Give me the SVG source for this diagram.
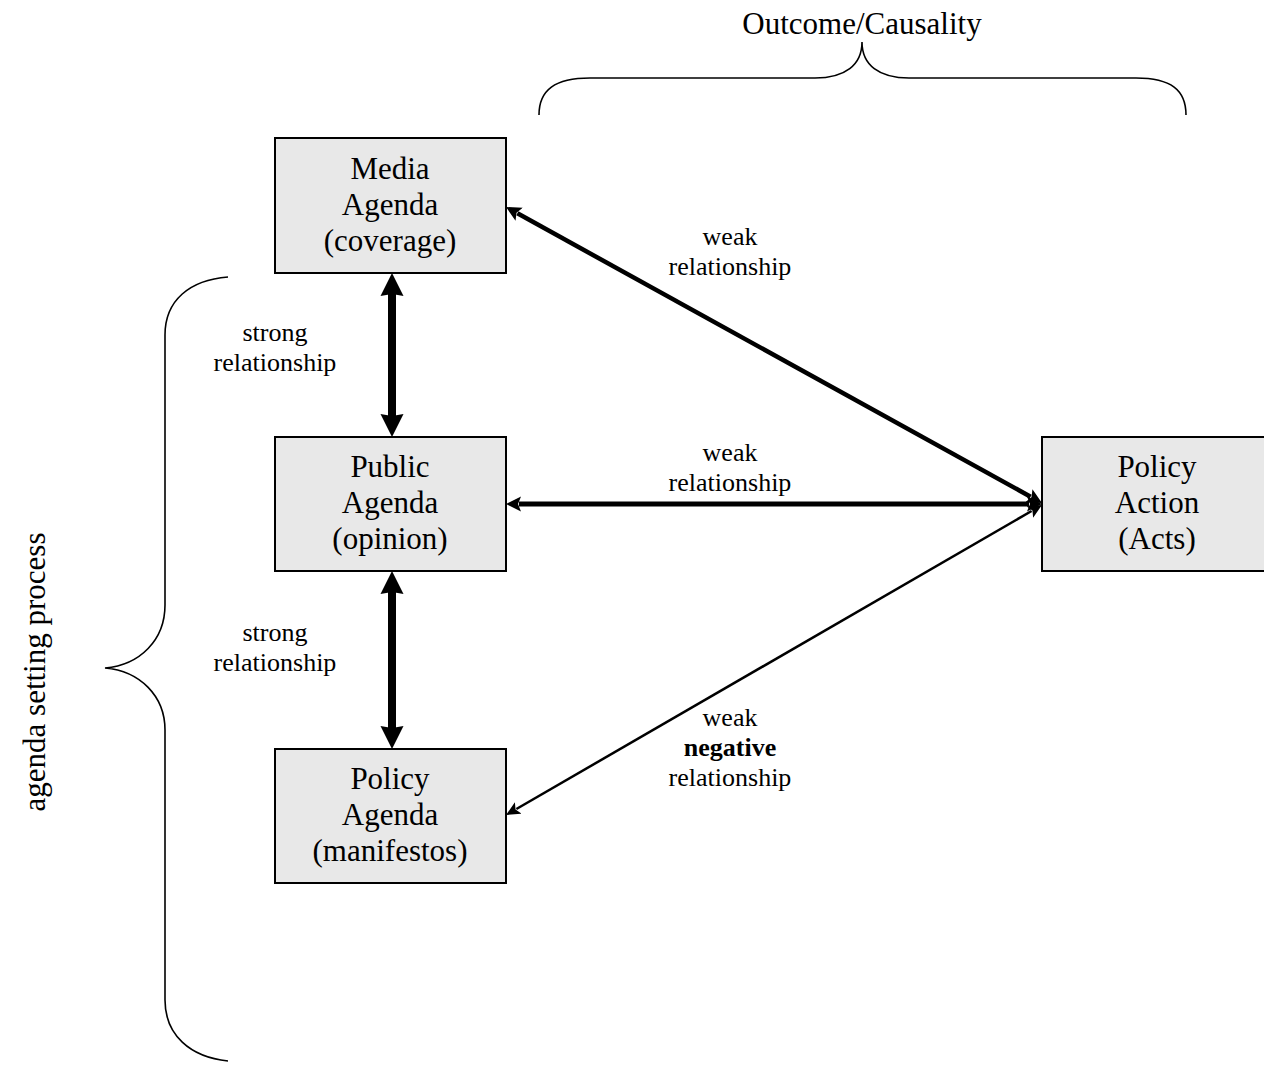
<svg xmlns="http://www.w3.org/2000/svg" width="1264" height="1068" viewBox="0 0 1264 1068">
<style>
.box{fill:#e8e8e8;stroke:#000;stroke-width:2}
.big{font-family:"Liberation Serif","Times New Roman",serif;font-size:31px;fill:#000;text-anchor:middle}
.lbl{font-family:"Liberation Serif","Times New Roman",serif;font-size:26px;fill:#000;text-anchor:middle}
.brace{fill:none;stroke:#000;stroke-width:1.6}
.c{stroke:#000;fill:none}
</style>
<defs>
<marker id="hBig" markerUnits="userSpaceOnUse" markerWidth="24" markerHeight="24" refX="2" refY="12" orient="auto-start-reverse" viewBox="0 0 24 24">
<path d="M0,0.5 L23,12 L0,23.5 L2,12 z" fill="#000"/>
</marker>
<marker id="hMed" markerUnits="userSpaceOnUse" markerWidth="16" markerHeight="16" refX="2" refY="8" orient="auto-start-reverse" viewBox="0 0 16 16">
<path d="M0,0.5 L15,8 L0,15.5 L3,8 z" fill="#000"/>
</marker>
<marker id="hSm" markerUnits="userSpaceOnUse" markerWidth="16" markerHeight="14" refX="2" refY="7" orient="auto-start-reverse" viewBox="0 0 16 14">
<path d="M0,0.5 L14,7 L0,13.5 L3,7 z" fill="#000"/>
</marker>
</defs>

<g id="braces">
<path class="brace" d="M539,115 C539,90 555,78 590,78 L815,78 C845,78 862,65 862,42 C862,65 879,78 909,78 L1136,78 C1171,78 1186,90 1186,115"/>
<path class="brace" d="M228,277 C190,280 165,300 165,335 L165,605 C165,640 140,665 105,668 C140,671 165,696 165,730 L165,1000 C165,1035 190,1057 228,1061"/>
</g>
<text class="big" x="862" y="34">Outcome/Causality</text>
<text class="big" transform="translate(45,672) rotate(-90)" x="0" y="0">agenda setting process</text>

<g id="connectors">
<line class="c" x1="392" y1="294" x2="392" y2="416" stroke-width="8" marker-start="url(#hBig)" marker-end="url(#hBig)"/>
<line class="c" x1="392" y1="592" x2="392" y2="728" stroke-width="8" marker-start="url(#hBig)" marker-end="url(#hBig)"/>
<line class="c" x1="519" y1="504" x2="1029" y2="504" stroke-width="5" marker-start="url(#hMed)" marker-end="url(#hMed)"/>
<line class="c" x1="517.4" y1="213.3" x2="1030.6" y2="496.7" stroke-width="4.5" marker-start="url(#hMed)" marker-end="url(#hMed)"/>
<line class="c" x1="516.4" y1="809" x2="1031.6" y2="511" stroke-width="2.5" marker-start="url(#hSm)" marker-end="url(#hSm)"/>
</g>

<g id="media">
<rect class="box" x="275" y="138" width="231" height="135"/>
<text class="big" x="390" y="179">Media</text>
<text class="big" x="390" y="215">Agenda</text>
<text class="big" x="390" y="251">(coverage)</text>
</g>
<g id="public">
<rect class="box" x="275" y="437" width="231" height="134"/>
<text class="big" x="390" y="477">Public</text>
<text class="big" x="390" y="513">Agenda</text>
<text class="big" x="390" y="549">(opinion)</text>
</g>
<g id="policyAgenda">
<rect class="box" x="275" y="749" width="231" height="134"/>
<text class="big" x="390" y="789">Policy</text>
<text class="big" x="390" y="825">Agenda</text>
<text class="big" x="390" y="861">(manifestos)</text>
</g>
<g id="policyAction">
<rect class="box" x="1042" y="437" width="231" height="134"/>
<text class="big" x="1157" y="477">Policy</text>
<text class="big" x="1157" y="513">Action</text>
<text class="big" x="1157" y="549">(Acts)</text>
</g>

<g id="labels">
<text class="lbl" x="730" y="245">weak</text>
<text class="lbl" x="730" y="275">relationship</text>
<text class="lbl" x="730" y="461">weak</text>
<text class="lbl" x="730" y="491">relationship</text>
<text class="lbl" x="730" y="726">weak</text>
<text class="lbl" x="730" y="756" font-weight="bold">negative</text>
<text class="lbl" x="730" y="786">relationship</text>
<text class="lbl" x="275" y="341">strong</text>
<text class="lbl" x="275" y="371">relationship</text>
<text class="lbl" x="275" y="641">strong</text>
<text class="lbl" x="275" y="671">relationship</text>
</g>
</svg>
